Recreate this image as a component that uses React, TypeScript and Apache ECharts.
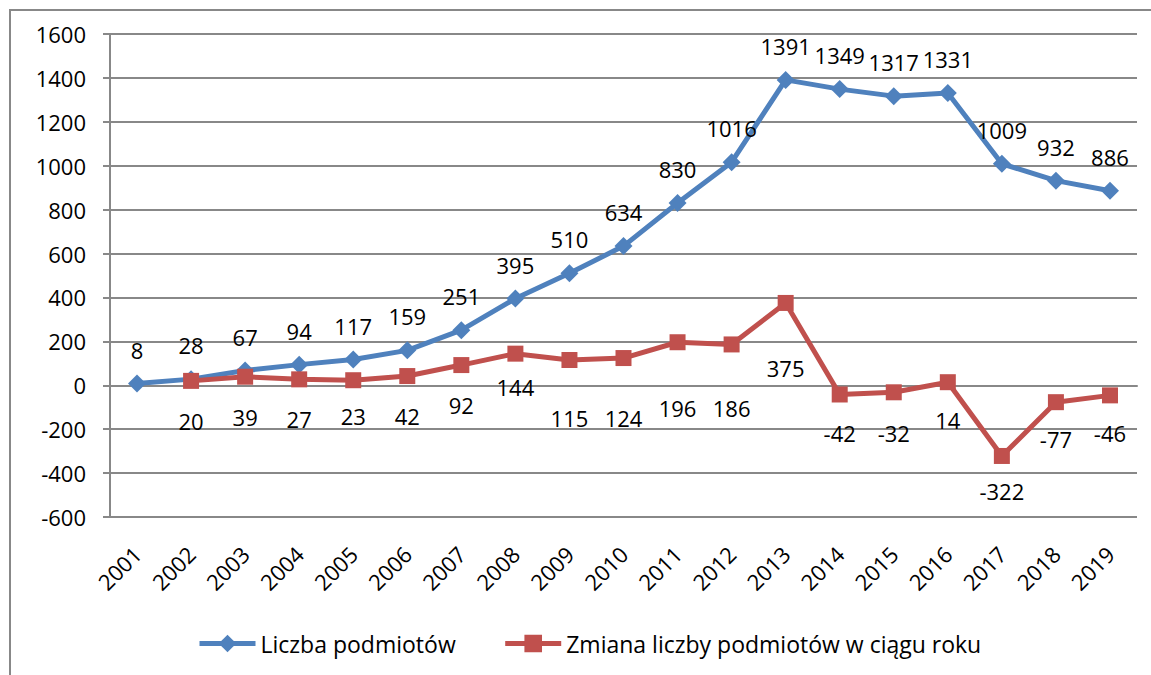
import React, { useEffect, useRef } from "react";
import * as echarts from "echarts";

const years = ["2001","2002","2003","2004","2005","2006","2007","2008","2009","2010","2011","2012","2013","2014","2015","2016","2017","2018","2019"];
const liczba = [8, 28, 67, 94, 117, 159, 251, 395, 510, 634, 830, 1016, 1391, 1349, 1317, 1331, 1009, 932, 886];
const zmiana: (number | null)[] = [null, 20, 39, 27, 23, 42, 92, 144, 115, 124, 196, 186, 375, -42, -32, 14, -322, -77, -46];
// vertical label shift (px, below point) for the change series, as placed in the original
const zmianaLabelShift = [0, 40, 40, 40, 36, 40, 40, 33, 58, 60, 66, 64, 65, 39, 41, 38, 35, 37, 38];

const FONT = "'Open Sans', 'DejaVu Sans', sans-serif";
const BLUE = "#4F81BD";
const RED = "#C0504D";
const GRAY = "#888888";
const FS = 22;

export default function App() {
  const ref = useRef<HTMLDivElement>(null);
  useEffect(() => {
    if (!ref.current) return;
    const chart = echarts.init(ref.current, null, { renderer: "svg" });
    const redData = zmiana.map((v, i) =>
      v === null
        ? null
        : {
            value: v,
            label: { offset: [0, zmianaLabelShift[i]] },
          }
    );
    chart.setOption({
      animation: false,
      backgroundColor: "#ffffff",
      textStyle: { fontFamily: FONT },
      graphic: [
        {
          type: "rect",
          shape: { x: 10, y: 10, width: 1150, height: 700 },
          style: { fill: "none", stroke: GRAY, lineWidth: 2 },
          silent: true,
        },
      ],
      grid: { left: 110, right: 14, top: 34, bottom: 158, containLabel: false },
      xAxis: {
        type: "category",
        data: years,
        boundaryGap: true,
        axisLine: { show: true, lineStyle: { color: GRAY, width: 2 } },
        axisTick: { show: false },
        axisLabel: {
          rotate: 45,
          fontSize: FS,
          color: "#000",
          fontFamily: FONT,
          margin: 33,
          interval: 0,
        },
      },
      yAxis: {
        type: "value",
        min: -600,
        max: 1600,
        interval: 200,
        axisLine: { show: true, lineStyle: { color: GRAY, width: 2 } },
        axisTick: { show: true, length: 7, lineStyle: { color: GRAY, width: 2 } },
        axisLabel: {
          fontSize: FS,
          color: "#000",
          fontFamily: FONT,
          margin: 24,
          formatter: (v: number) => String(v),
        },
        splitLine: { show: true, lineStyle: { color: GRAY, width: 2 } },
      },
      legend: {
        top: 627,
        left: 192,
        itemGap: 47,
        itemWidth: 56,
        itemHeight: 22,
        textStyle: { fontSize: 23, color: "#000", fontFamily: FONT },
        lineStyle: { width: 5 },
        data: ["Liczba podmiotów", "Zmiana liczby podmiotów w ciągu roku"],
      },
      series: [
        {
          name: "Liczba podmiotów",
          type: "line",
          data: liczba,
          symbol: "diamond",
          symbolSize: 18,
          color: BLUE,
          lineStyle: { color: BLUE, width: 5 },
          itemStyle: { color: BLUE },
          label: {
            show: true,
            position: "top",
            distance: 14,
            fontSize: FS,
            color: "#000",
            fontFamily: FONT,
          },
          z: 3,
        },
        {
          name: "Zmiana liczby podmiotów w ciągu roku",
          type: "line",
          data: redData,
          symbol: "rect",
          symbolSize: 16,
          color: RED,
          lineStyle: { color: RED, width: 5 },
          itemStyle: { color: RED },
          label: {
            show: true,
            position: "inside",
            fontSize: FS,
            color: "#000",
            fontFamily: FONT,
          },
          z: 4,
        },
      ],
    });
    return () => chart.dispose();
  }, []);
  return (
    <div style={{ position: "fixed", left: 0, top: 0, width: 1151, height: 675, background: "#fff" }}>
      <div ref={ref} style={{ width: 1151, height: 675 }} />
    </div>
  );
}
